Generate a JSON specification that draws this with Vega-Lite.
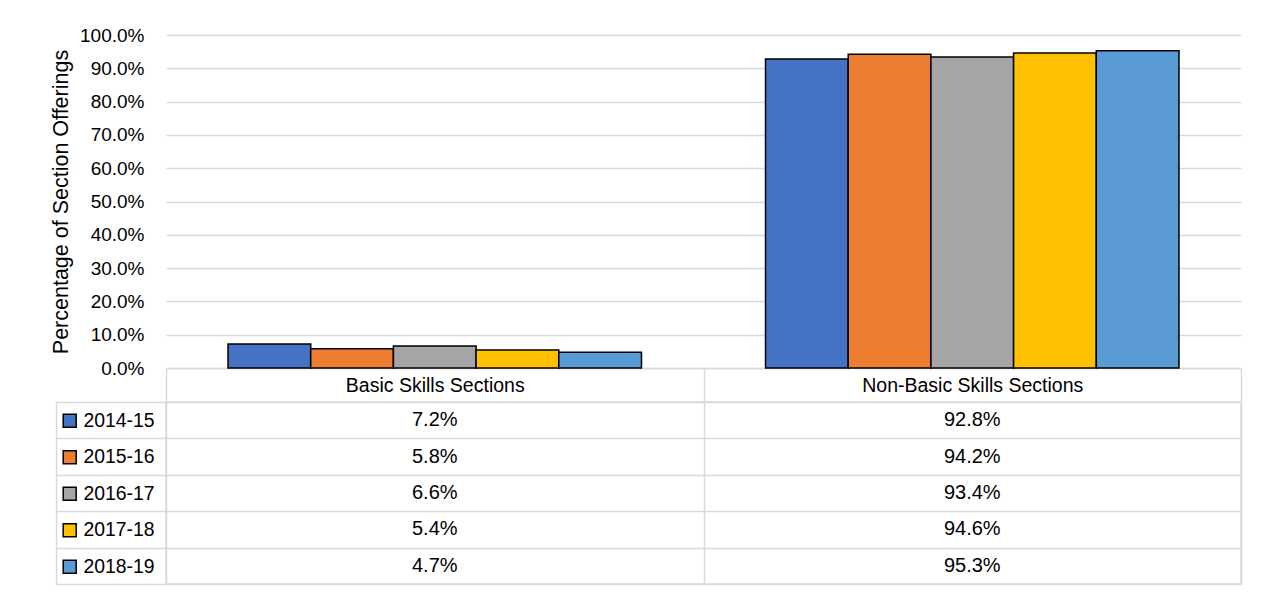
{
  "$schema": "https://vega.github.io/schema/vega-lite/v6.json",
  "background": "white",
  "padding": {"left": 50, "top": 26, "right": 5, "bottom": 5},
  "spacing": -3,
  "datasets": {
    "d": [
      {"category": "Basic Skills Sections", "year": "2014-15", "value": 0.072},
      {"category": "Basic Skills Sections", "year": "2015-16", "value": 0.058},
      {"category": "Basic Skills Sections", "year": "2016-17", "value": 0.066},
      {"category": "Basic Skills Sections", "year": "2017-18", "value": 0.054},
      {"category": "Basic Skills Sections", "year": "2018-19", "value": 0.047},
      {"category": "Non-Basic Skills Sections", "year": "2014-15", "value": 0.928},
      {"category": "Non-Basic Skills Sections", "year": "2015-16", "value": 0.942},
      {"category": "Non-Basic Skills Sections", "year": "2016-17", "value": 0.934},
      {"category": "Non-Basic Skills Sections", "year": "2017-18", "value": 0.946},
      {"category": "Non-Basic Skills Sections", "year": "2018-19", "value": 0.953}
    ]
  },
  "vconcat": [
    {
      "width": 1075,
      "height": 333,
      "data": {"name": "d"},
      "mark": {"type": "bar", "stroke": "black", "strokeWidth": 1.5},
      "encoding": {
        "x": {
          "field": "category", "type": "nominal",
          "scale": {"paddingInner": 0, "paddingOuter": 0},
          "axis": {
            "title": null, "labelAngle": 0, "labelLimit": 0, "domainColor": "#d9d9d9", "domainWidth": 1.5,
            "tickColor": "#d9d9d9", "tickWidth": 1.5, "tickBand": "extent", "tickSize": 33,
            "labelPadding": -16, "labelBaseline": "middle", "labelFontSize": 19.5, "labelColor": "black"
          }
        },
        "xOffset": {"field": "year", "type": "nominal", "scale": {"paddingInner": 0, "paddingOuter": 0.75}},
        "y": {
          "field": "value", "type": "quantitative",
          "scale": {"domain": [0, 1]},
          "axis": {
            "format": ".1%", "values": [0, 0.1, 0.2, 0.3, 0.4, 0.5, 0.6, 0.7, 0.8, 0.9, 1.0],
            "title": "Percentage of Section Offerings", "titleFontSize": 21.5, "titleFontWeight": "normal", "titleColor": "black",
            "titlePadding": 7,
            "domain": false, "ticks": false, "gridColor": "#d9d9d9", "gridWidth": 1.5,
            "labelPadding": 22, "labelFontSize": 19, "labelColor": "black"
          }
        },
        "color": {
          "field": "year", "type": "nominal",
          "scale": {"range": ["#4472C4", "#ED7D31", "#A5A5A5", "#FFC000", "#5B9BD5"]},
          "legend": {
            "orient": "none", "legendX": -106, "legendY": 376, "title": null,
            "symbolType": "square", "symbolSize": 169, "symbolStrokeColor": "black", "symbolStrokeWidth": 1.5,
            "labelFontSize": 19.4, "labelColor": "black", "labelOffset": 4, "rowPadding": 15.5
          }
        }
      }
    },
    {
      "width": 1075,
      "height": 182,
      "data": {"name": "d"},
      "view": {"stroke": "#d9d9d9", "strokeWidth": 1.5},
      "mark": {"type": "text", "fontSize": 20, "color": "black"},
      "encoding": {
        "x": {
          "field": "category", "type": "nominal",
          "scale": {"paddingInner": 0, "paddingOuter": 0},
          "axis": {"title": null, "labels": false, "ticks": false, "domain": false, "grid": true, "tickBand": "extent", "gridColor": "#d9d9d9", "gridWidth": 1.5}
        },
        "y": {
          "field": "year", "type": "nominal",
          "scale": {"paddingInner": 0, "paddingOuter": 0},
          "axis": {
            "title": null, "labels": false, "offset": 110, "domainColor": "#d9d9d9", "domainWidth": 1.5,
            "tickColor": "#d9d9d9", "tickWidth": 1.5, "tickSize": -110, "tickBand": "extent",
            "grid": true, "gridColor": "#d9d9d9", "gridWidth": 1.5
          }
        },
        "text": {"field": "value", "type": "quantitative", "format": ".1%"}
      }
    }
  ],
  "config": {
    "font": "Liberation Sans",
    "view": {"stroke": null},
    "axis": {"labelFont": "Liberation Sans", "titleFont": "Liberation Sans"},
    "legend": {"labelFont": "Liberation Sans"}
  }
}
